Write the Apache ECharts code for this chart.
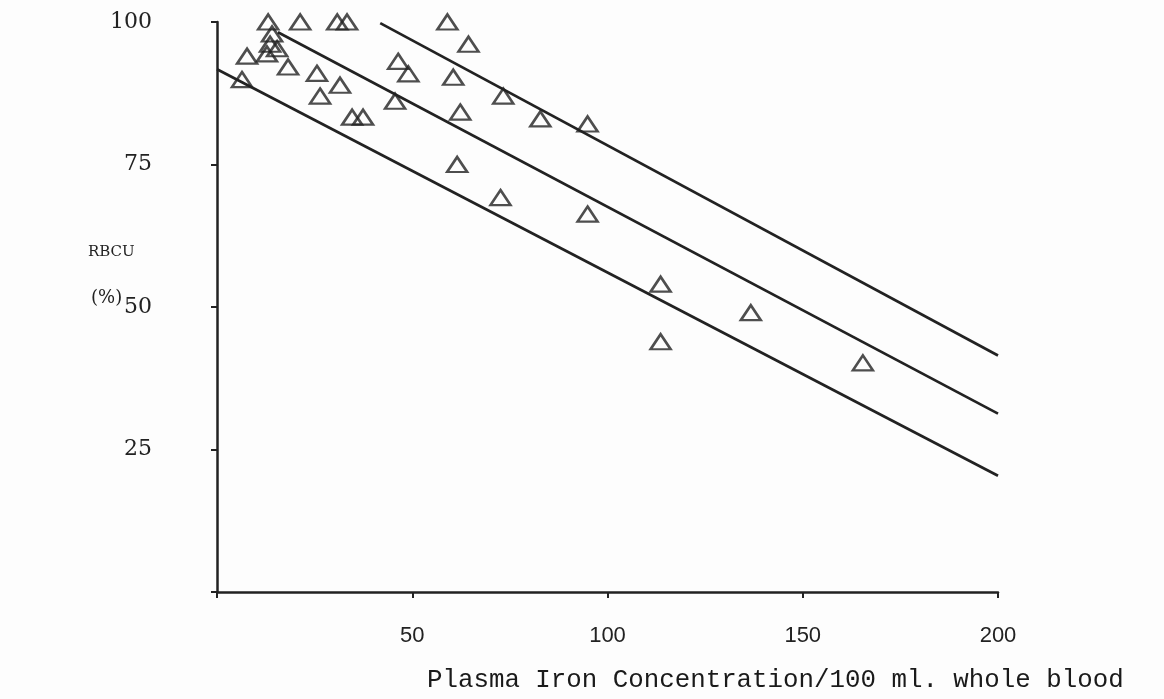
<!DOCTYPE html>
<html>
<head>
<meta charset="utf-8">
<title>RBCU vs Plasma Iron Concentration</title>
<script src="https://cdn.jsdelivr.net/npm/echarts@6/dist/echarts.min.js"></script>
<style>
  html, body { margin: 0; padding: 0; background: #fdfdfd; }
  #chart { width: 1164px; height: 699px; }
</style>
</head>
<body>
<div id="chart"></div>
<script>
// Observed points: plasma iron concentration (x) and RBCU % (y)
const ironConc = [13.1, 21.3, 30.8, 33.3, 59.0, 14.1, 13.6, 15.4, 12.8, 7.7,
                  18.2, 25.6, 31.5, 26.4, 6.4, 34.6, 37.4, 46.4, 49.0, 45.6,
                  64.4, 60.5, 73.3, 62.3, 82.8, 94.9, 61.5, 72.6, 94.9, 113.6,
                  136.7, 113.6, 165.4];
const rbcu =     [100.0, 100.0, 100.0, 100.0, 100.0, 97.9, 96.1, 95.3, 94.4, 94.0,
                  92.1, 91.0, 88.9, 87.0, 89.9, 83.3, 83.3, 93.1, 90.9, 86.1,
                  96.1, 90.3, 87.0, 84.2, 83.0, 82.1, 75.0, 69.2, 66.3, 54.0,
                  49.0, 43.9, 40.2];

// Fitted line and its two bounding lines, each given by its end points
const upperLine  = [[41.8, 99.8], [200, 41.5]];
const middleLine = [[15.6, 98.2], [200, 31.3]];
const lowerLine  = [[0, 91.7], [200, 20.4]];

const xTicks = [0, 50, 100, 150, 200];
const yTicks = [0, 25, 50, 75, 100];

const ink = '#222';
const chart = echarts.init(document.getElementById('chart'), null, { renderer: 'canvas' });

const lineSeries = (pts) => ({
  type: 'line',
  data: pts,
  symbol: 'none',
  silent: true,
  lineStyle: { color: ink, width: 2.7 },
  z: 2
});

chart.setOption({
  backgroundColor: '#fdfdfd',
  animation: false,
  grid: { left: 217, right: 166, top: 22, bottom: 107 },
  xAxis: {
    type: 'value',
    min: xTicks[0], max: xTicks[xTicks.length - 1], interval: 50,
    axisLine: { show: true, lineStyle: { color: ink, width: 2.5 } },
    axisTick: { show: true, inside: false, length: 6, lineStyle: { color: ink, width: 2 } },
    axisLabel: {
      margin: 33,
      color: '#222',
      fontFamily: 'Liberation Sans',
      fontSize: 22,
      formatter: v => (v === 0 ? '' : String(v))
    },
    splitLine: { show: false }
  },
  yAxis: {
    type: 'value',
    min: yTicks[0], max: yTicks[yTicks.length - 1], interval: 25,
    axisLine: { show: true, lineStyle: { color: ink, width: 2.5 } },
    axisTick: { show: true, inside: false, length: 6, lineStyle: { color: ink, width: 2 } },
    axisLabel: {
      margin: 65,
      color: '#222',
      fontFamily: 'DejaVu Serif',
      fontSize: 22,
      formatter: v => (v === 0 ? '' : String(v))
    },
    splitLine: { show: false }
  },
  graphic: [
    { type: 'text', left: 88, top: 245,
      style: { text: 'RBCU', fill: '#222', font: '15px "DejaVu Serif"' } },
    { type: 'text', left: 91, top: 289,
      style: { text: '(%)', fill: '#222', font: '18px "DejaVu Serif"' } },
    { type: 'text', left: 427, top: 667,
      style: { text: 'Plasma Iron Concentration/100 ml. whole blood', fill: '#1a1a1a',
               font: '25.8px "Liberation Mono"' } }
  ],
  series: [
    lineSeries(upperLine),
    lineSeries(middleLine),
    lineSeries(lowerLine),
    {
      type: 'scatter',
      data: ironConc.map((x, i) => [x, rbcu[i]]),
      symbol: 'triangle',
      symbolSize: [20, 15],
      itemStyle: { color: 'rgba(0,0,0,0)', borderColor: ink, borderWidth: 2.5 },
      z: 3
    }
  ]
});
</script>
</body>
</html>
